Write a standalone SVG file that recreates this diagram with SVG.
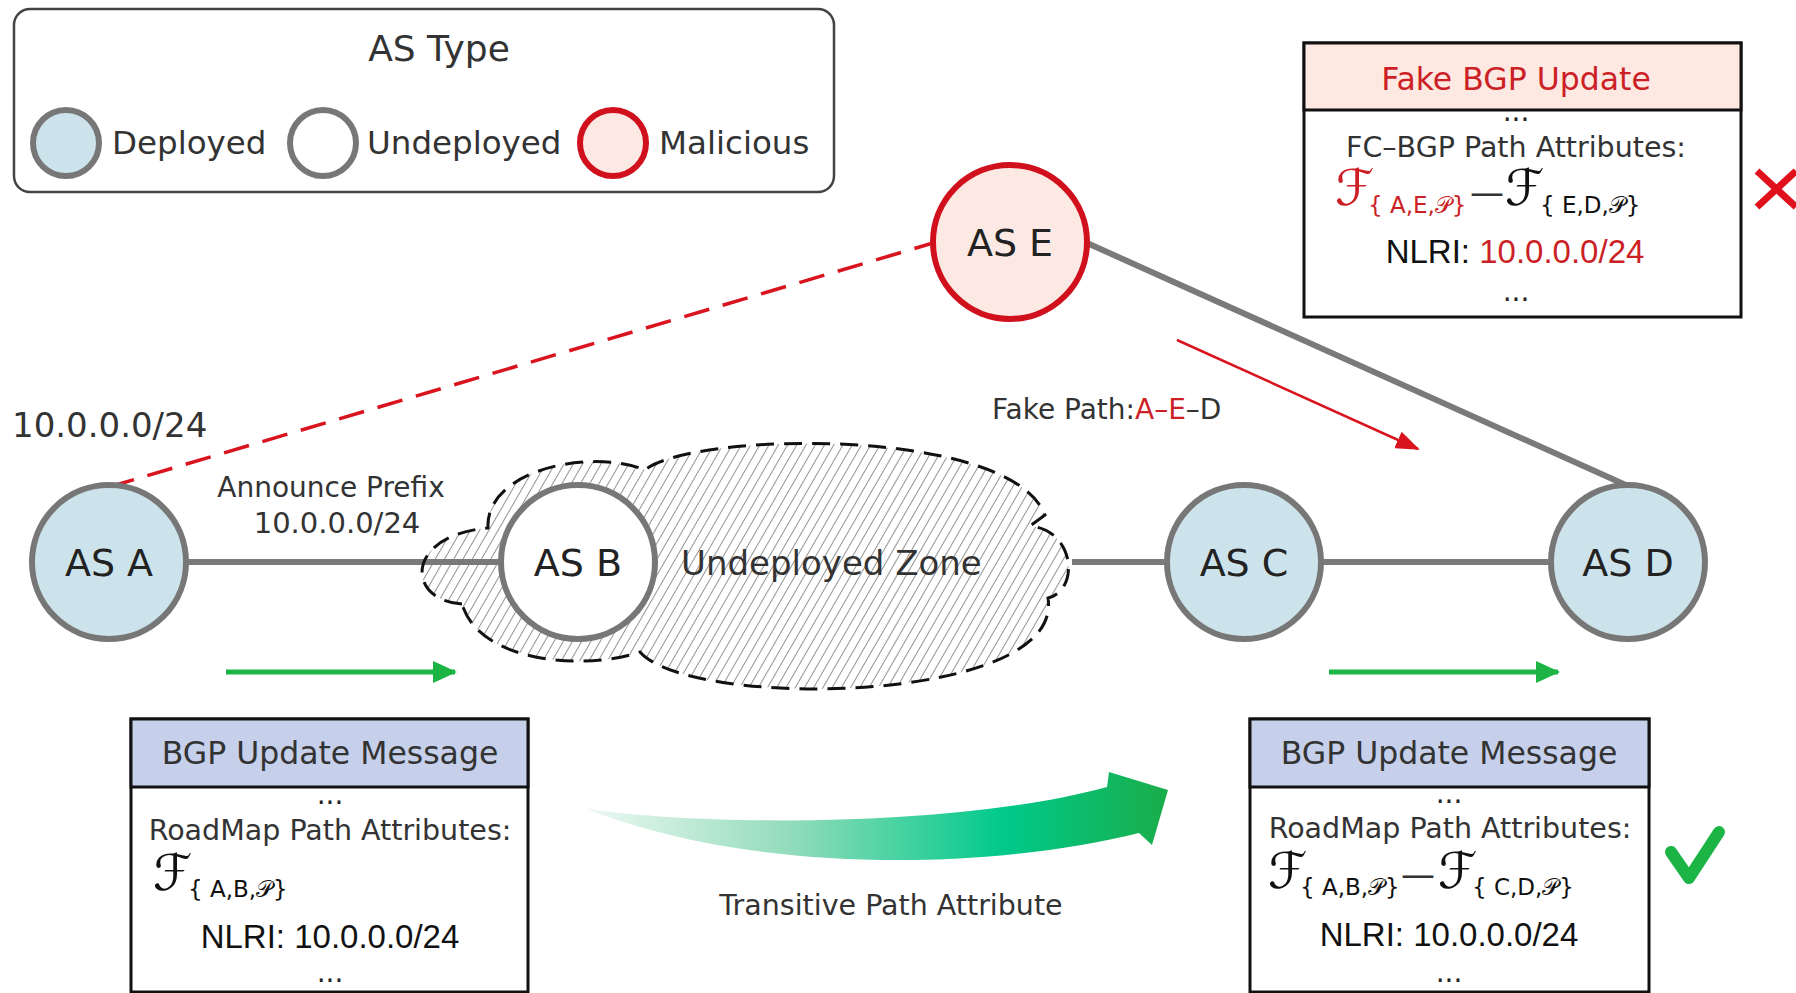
<svg xmlns="http://www.w3.org/2000/svg" width="1796" height="993" viewBox="0 0 1796 993">
<style>
text{font-family:"DejaVu Sans","Noto Sans",sans-serif;fill:#333}
.lg{font-size:32.5px}
.node{font-size:38px;fill:#222;text-anchor:middle}
.body{font-size:28.5px;text-anchor:middle}
.hdr{font-size:31.5px;text-anchor:middle}
.nlri{font-family:"Liberation Sans",Arial,sans-serif;font-size:33px;fill:#111;text-anchor:middle}
.dots{font-size:28px;text-anchor:middle;fill:#222}
.cal{font-family:"DejaVu Serif","DejaVu Sans",serif;font-size:50px;fill:#111}
.sub{font-size:23px;fill:#111}
.red{fill:#cc1f26}
.dep{fill:#cde3ec;stroke:#777;stroke-width:6}
.und{fill:#fff;stroke:#777;stroke-width:6}
.mal{fill:#fde9e3;stroke:#d0101c;stroke-width:6}
.link{stroke:#7a7a7a;stroke-width:6;fill:none}
.box{fill:#fff;stroke:#111;stroke-width:3}
</style>
<defs>
<pattern id="hatch" patternUnits="userSpaceOnUse" width="8" height="8" patternTransform="rotate(30)">
<line x1="0" y1="0" x2="0" y2="8" stroke="#777" stroke-width="1.6"/>
</pattern>
<marker id="redHead" markerUnits="userSpaceOnUse" markerWidth="24" markerHeight="18" refX="22" refY="9" orient="auto">
<path d="M0,0 L24,9 L0,18 z" fill="#d9141e"/>
</marker>
<marker id="greenHead" markerUnits="userSpaceOnUse" markerWidth="24" markerHeight="22" refX="22" refY="11" orient="auto">
<path d="M0,0 L24,11 L0,22 z" fill="#1db446"/>
</marker>
<linearGradient id="bigGrad" gradientUnits="userSpaceOnUse" x1="584" y1="0" x2="1168" y2="0">
<stop offset="0" stop-color="#eef9f4"/>
<stop offset="0.35" stop-color="#93dcbb"/>
<stop offset="0.72" stop-color="#00c98a"/>
<stop offset="1" stop-color="#1aad4a"/>
</linearGradient>
</defs>
<rect width="1796" height="993" fill="#fff"/>

<g id="legend">
<rect x="14" y="9" width="820" height="183" rx="16" fill="#fff" stroke="#444" stroke-width="2.5"/>
<text x="439" y="61" font-size="36" text-anchor="middle">AS Type</text>
<circle cx="66" cy="143" r="33" class="dep" stroke-width="7"/>
<text x="112" y="154" class="lg">Deployed</text>
<circle cx="323" cy="143" r="33" class="und" stroke-width="7"/>
<text x="367" y="154" class="lg">Undeployed</text>
<circle cx="613" cy="143" r="33" class="mal" stroke-width="7"/>
<text x="659" y="154" class="lg">Malicious</text>
</g>

<g id="connectors">
<line x1="186" y1="562" x2="501" y2="562" class="link"/>
<line x1="1072" y1="562" x2="1167" y2="562" class="link"/>
<line x1="1321" y1="562" x2="1552" y2="562" class="link"/>
<line x1="1087" y1="243" x2="1628" y2="486" class="link"/>
<line x1="109" y1="487" x2="933" y2="243" stroke="#d9141e" stroke-width="3.5" stroke-dasharray="26 14"/>
<line x1="1177" y1="340" x2="1418" y2="449" stroke="#d9141e" stroke-width="2.5" marker-end="url(#redHead)"/>
<line x1="226" y1="672" x2="455" y2="672" stroke="#1db446" stroke-width="5" marker-end="url(#greenHead)"/>
<line x1="1329" y1="672" x2="1558" y2="672" stroke="#1db446" stroke-width="5" marker-end="url(#greenHead)"/>
<path d="M584,808 C680,825 950,830 1107,787 L1109,772 L1168,790 L1152,845 L1139,833 C1000,868 760,878 584,808 Z" fill="url(#bigGrad)"/>
</g>

<g id="zone">
<path d="M462,604 C405,600 405,535 488,528 C485,470 590,448 645,470 C690,432 1010,425 1045,515 L1030,526 C1075,530 1080,590 1048,598 C1065,705 690,710 640,652 C590,670 480,665 462,604 Z" fill="url(#hatch)" stroke="#111" stroke-width="3" stroke-dasharray="18 10"/>
<text x="681" y="575" font-size="34">Undeployed Zone</text>
</g>

<g id="asA"><circle cx="109" cy="562" r="77" class="dep"/><text x="109" y="576" class="node">AS A</text></g>
<g id="asB"><circle cx="578" cy="562" r="77" class="und"/><text x="578" y="576" class="node">AS B</text></g>
<g id="asC"><circle cx="1244" cy="562" r="77" class="dep"/><text x="1244" y="576" class="node">AS C</text></g>
<g id="asD"><circle cx="1628" cy="562" r="77" class="dep"/><text x="1628" y="576" class="node">AS D</text></g>
<g id="asE"><circle cx="1010" cy="242" r="77" class="mal"/><text x="1010" y="256" class="node">AS E</text></g>

<g id="labels">
<text x="12" y="437" font-size="34">10.0.0.0/24</text>
<text x="331" y="497" font-size="28" text-anchor="middle">Announce Prefix</text>
<text x="337" y="533" font-size="29" text-anchor="middle">10.0.0.0/24</text>
<text x="992" y="419" font-size="28">Fake Path:<tspan class="red">A–E</tspan>–D</text>
<text x="891" y="915" class="body">Transitive Path Attribute</text>
</g>

<g id="fakeBox">
<rect x="1304" y="43" width="437" height="274" class="box"/>
<rect x="1304" y="43" width="437" height="67" fill="#fde8e2" stroke="#111" stroke-width="3"/>
<text x="1516" y="90" class="hdr red">Fake BGP Update</text>
<text x="1516" y="121" class="dots">...</text>
<text x="1516" y="157" class="body">FC–BGP Path Attributes:</text>
<text x="1335" y="205" class="cal red">ℱ</text>
<text x="1368" y="213" class="sub red">{ A,E,𝒫}</text>
<text x="1470" y="204" font-size="34" fill="#111">—</text>
<text x="1505" y="205" class="cal">ℱ</text>
<text x="1540" y="213" class="sub">{ E,D,𝒫}</text>
<text x="1515" y="263" class="nlri">NLRI: <tspan class="red">10.0.0.0/24</tspan></text>
<text x="1516" y="301" class="dots">...</text>
</g>

<g id="leftBox">
<rect x="131" y="719" width="397" height="273" class="box"/>
<rect x="131" y="719" width="397" height="68" fill="#c6d0ea" stroke="#111" stroke-width="3"/>
<text x="330" y="764" class="hdr">BGP Update Message</text>
<text x="330" y="804" class="dots">...</text>
<text x="330" y="840" class="body">RoadMap Path Attributes:</text>
<text x="153" y="890" class="cal">ℱ</text>
<text x="188" y="897" class="sub">{ A,B,𝒫}</text>
<text x="330" y="948" class="nlri">NLRI: 10.0.0.0/24</text>
<text x="330" y="982" class="dots">...</text>
</g>

<g id="rightBox">
<rect x="1250" y="719" width="399" height="273" class="box"/>
<rect x="1250" y="719" width="399" height="68" fill="#c6d0ea" stroke="#111" stroke-width="3"/>
<text x="1449" y="764" class="hdr">BGP Update Message</text>
<text x="1449" y="803" class="dots">...</text>
<text x="1450" y="838" class="body">RoadMap Path Attributes:</text>
<text x="1268" y="888" class="cal">ℱ</text>
<text x="1300" y="895" class="sub">{ A,B,𝒫}</text>
<text x="1401" y="886" font-size="34" fill="#111">—</text>
<text x="1438" y="888" class="cal">ℱ</text>
<text x="1472" y="895" class="sub">{ C,D,𝒫}</text>
<text x="1449" y="946" class="nlri">NLRI: 10.0.0.0/24</text>
<text x="1449" y="982" class="dots">...</text>
</g>

<g id="marks">
<path d="M1671,852 L1689,878 L1719,832" fill="none" stroke="#1db446" stroke-width="12" stroke-linecap="round" stroke-linejoin="round"/>
<path d="M1757,171 L1796,207 M1796,171 L1757,207" stroke="#e0101c" stroke-width="7"/>
</g>
</svg>
